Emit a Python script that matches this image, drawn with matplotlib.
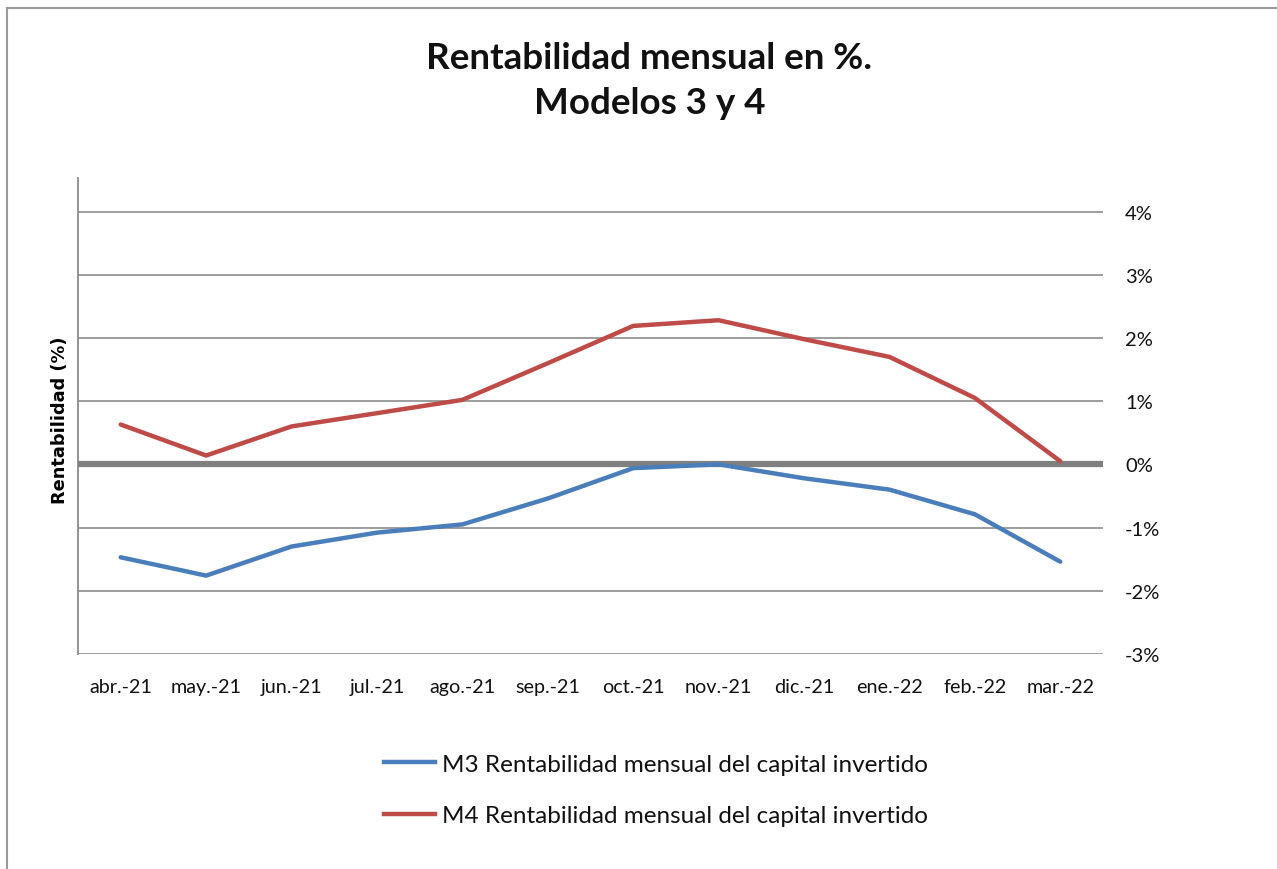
import matplotlib
matplotlib.use("Agg")
import matplotlib.pyplot as plt
from matplotlib.lines import Line2D
from matplotlib.ticker import FuncFormatter, FixedLocator

categories = ["abr.-21", "may.-21", "jun.-21", "jul.-21", "ago.-21", "sep.-21",
              "oct.-21", "nov.-21", "dic.-21", "ene.-22", "feb.-22", "mar.-22"]
m3 = [-1.47, -1.76, -1.30, -1.08, -0.95, -0.54, -0.06, 0.0, -0.22, -0.40, -0.79, -1.54]
m4 = [0.63, 0.14, 0.60, 0.81, 1.02, 1.60, 2.19, 2.28, 1.98, 1.70, 1.05, 0.05]
yticks = [-3, -2, -1, 0, 1, 2, 3, 4]
series_labels = ["M3 Rentabilidad mensual del capital invertido",
                 "M4 Rentabilidad mensual del capital invertido"]
title = "Rentabilidad mensual en %.\nModelos 3 y 4"

plt.rcParams['font.family'] = ['Lato', 'DejaVu Sans']

W, H = 1277, 870
fig = plt.figure(figsize=(W / 100, H / 100), dpi=100)
ax = fig.add_axes([78 / W, 1 - 655 / H, (1103 - 78) / W, (655 - 179) / H])

x = list(range(len(categories)))
blue = "#4a7ebb"
red = "#be4b48"
ax.plot(x, m3, color=blue, lw=3.2, solid_capstyle="round", zorder=4)
ax.plot(x, m4, color=red, lw=3.2, solid_capstyle="round", zorder=4)

ax.set_xlim(-0.5, len(categories) - 0.5)
ax.set_ylim(-3, 4.53)
ax.set_xticks(x)
ax.set_xticklabels(categories, fontsize=14.2, color="#111111")
ax.tick_params(axis="x", length=0, pad=17)

ax.yaxis.tick_right()
ax.yaxis.set_major_locator(FixedLocator(yticks))
ax.yaxis.set_major_formatter(FuncFormatter(lambda v, p: f"{int(round(v))}%"))
ax.tick_params(axis="y", length=0, pad=16, labelsize=14.5, labelcolor="#111111")
for t in yticks:
    if t == 0:
        ax.axhline(t, color="#808080", lw=4.5, zorder=3)
    else:
        ax.axhline(t, color="#8c8c8c", lw=1.2, zorder=1)

for s in ["top", "right", "bottom"]:
    ax.spines[s].set_visible(False)
ax.spines["left"].set_color("#8c8c8c")
ax.spines["left"].set_linewidth(1.3)

fig.text(60 / W, 1 - 420 / H, "Rentabilidad (%)", rotation=90, ha="center", va="center",
         fontsize=12.8, fontweight="bold", family=["DejaVu Sans"])

fig.text(0.5 * (417 + 882) / W, 1 - 81 / H, title, ha="center", va="center",
         fontsize=26.5, fontweight="bold", linespacing=1.42, color="#111111")

handles = [Line2D([], [], color=blue, lw=3.2), Line2D([], [], color=red, lw=3.2)]
leg = fig.legend(handles, series_labels, loc="center left",
                 bbox_to_anchor=(362 / W, 1 - 791 / H), frameon=False,
                 fontsize=17.5, handlelength=2.1, handletextpad=0.3, labelspacing=1.25)
for t in leg.get_texts():
    t.set_color("#111111")

fig.add_artist(Line2D([7 / W, 7 / W], [0, 1 - 9 / H], color="#9a9a9a", lw=1.5, transform=fig.transFigure))
fig.add_artist(Line2D([7 / W, 1], [1 - 9 / H, 1 - 9 / H], color="#9a9a9a", lw=1.5, transform=fig.transFigure))

fig.savefig("out.png", dpi=100)
